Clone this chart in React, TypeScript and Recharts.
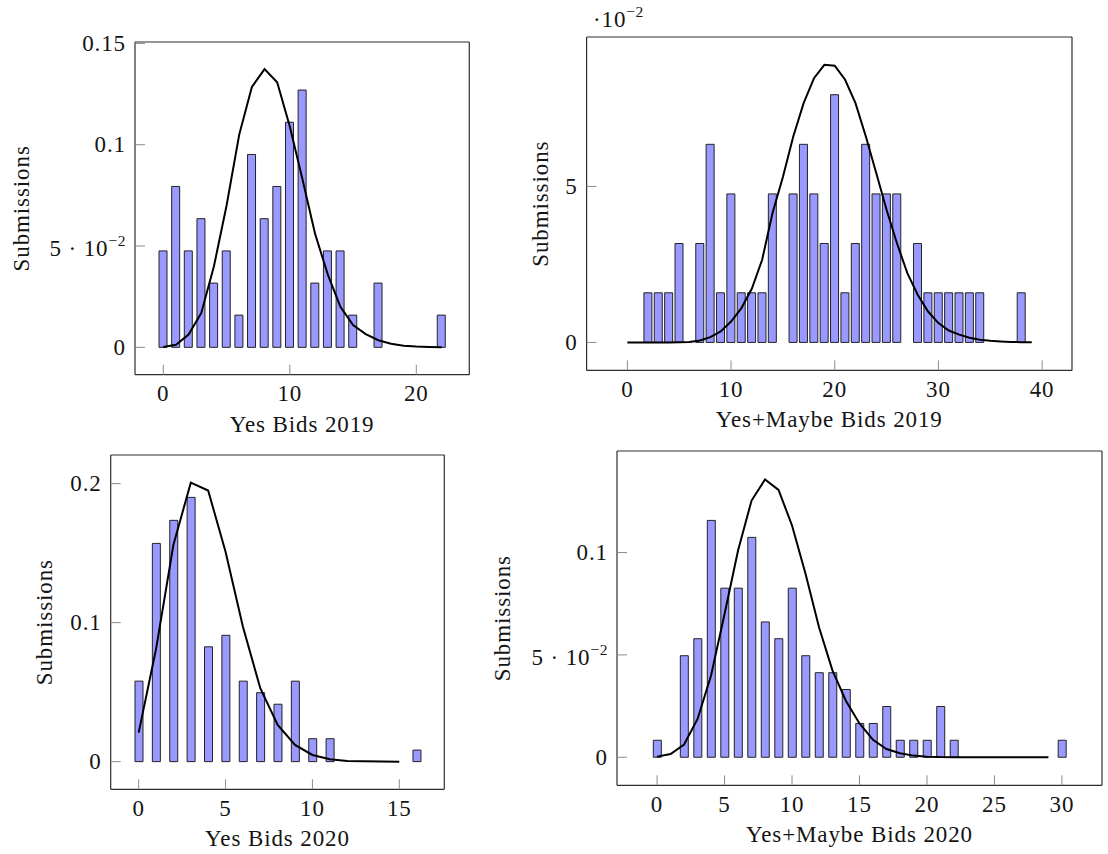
import { ComposedChart, Bar, Line, XAxis, YAxis } from 'recharts';

// ---- Yes bids 2019 ----
const yes2019Bids = [0, 1, 2, 3, 4, 5, 6, 7, 8, 9, 10, 11, 12, 13, 14, 15, 16, 17, 18, 19, 20, 21, 22];
const yes2019Share = [
  0.0476, 0.0794, 0.0476, 0.0635, 0.0317, 0.0476, 0.0159, 0.0952, 0.0635, 0.0794, 0.1111, 0.127,
  0.0317, 0.0476, 0.0476, 0.0159, null, 0.0317, null, null, null, null, 0.0159,
];
const yes2019Fit = [
  0.0002, 0.0013, 0.0063, 0.017, 0.04, 0.07, 0.105, 0.1285, 0.1373, 0.1308, 0.109, 0.083, 0.056,
  0.036, 0.02, 0.011, 0.0065, 0.0035, 0.0018, 0.0008, 0.0004, 0.0002, 0.0001,
];
const yes2019XTicks = [0, 10, 20];
const yes2019YTicks = [0, 0.05, 0.1, 0.15];
const yes2019YLabels = ['0', '5 · 10^−2', '0.1', '0.15'];

// ---- Yes+Maybe bids 2019 ----
const any2019Bids = [
  0, 1, 2, 3, 4, 5, 6, 7, 8, 9, 10, 11, 12, 13, 14, 15, 16, 17, 18, 19, 20, 21, 22, 23, 24, 25, 26,
  27, 28, 29, 30, 31, 32, 33, 34, 35, 36, 37, 38, 39,
];
const any2019Share = [
  null, null, 0.0159, 0.0159, 0.0159, 0.0317, null, 0.0317, 0.0635, 0.0159, 0.0476, 0.0159, 0.0159,
  0.0159, 0.0476, null, 0.0476, 0.0635, 0.0476, 0.0317, 0.0794, 0.0159, 0.0317, 0.0635, 0.0476,
  0.0476, 0.0476, null, 0.0317, 0.0159, 0.0159, 0.0159, 0.0159, 0.0159, 0.0159, null, null, null,
  0.0159, null,
];
const any2019Fit = [
  0, 0, 0, 0, 0.00001, 0.00003, 0.0001, 0.0006, 0.0017, 0.0035, 0.0067, 0.011, 0.0172, 0.0265,
  0.0415, 0.053, 0.066, 0.0767, 0.0847, 0.089, 0.0887, 0.0842, 0.0767, 0.066, 0.0543, 0.0425,
  0.0318, 0.0222, 0.0153, 0.0099, 0.0062, 0.0038, 0.0025, 0.0015, 0.00085, 0.0005, 0.0003, 0.00015,
  0.00008, 0.00004,
];
const any2019XTicks = [0, 10, 20, 30, 40];
const any2019YTicks = [0, 0.05];
const any2019YLabels = ['0', '5'];

// ---- Yes bids 2020 ----
const yes2020Bids = [0, 1, 2, 3, 4, 5, 6, 7, 8, 9, 10, 11, 12, 13, 14, 15, 16];
const yes2020Share = [
  0.0579, 0.157, 0.1736, 0.1901, 0.0826, 0.0909, 0.0579, 0.0496, 0.0413, 0.0579, 0.0165, 0.0165,
  null, null, null, null, 0.0083,
];
const yes2020Fit = [
  0.0209, 0.081, 0.156, 0.2007, 0.195, 0.151, 0.097, 0.0528, 0.0264, 0.012, 0.0048, 0.0017, 0.0005,
  0.0002, 0.0001, 0,
];
const yes2020XTicks = [0, 5, 10, 15];
const yes2020YTicks = [0, 0.1, 0.2];
const yes2020YLabels = ['0', '0.1', '0.2'];

// ---- Yes+Maybe bids 2020 ----
const any2020Bids = [
  0, 1, 2, 3, 4, 5, 6, 7, 8, 9, 10, 11, 12, 13, 14, 15, 16, 17, 18, 19, 20, 21, 22, 23, 24, 25, 26,
  27, 28, 29, 30,
];
const any2020Share = [
  0.0083, null, 0.0496, 0.0579, 0.1157, 0.0826, 0.0826, 0.1074, 0.0661, 0.0579, 0.0826, 0.0496,
  0.0413, 0.0413, 0.0331, 0.0165, 0.0165, 0.0248, 0.0083, 0.0083, 0.0083, 0.0248, 0.0083, null, null,
  null, null, null, null, null, 0.0083,
];
const any2020Fit = [
  0.0003, 0.0016, 0.0062, 0.0187, 0.0399, 0.07, 0.101, 0.1254, 0.1357, 0.1306, 0.1132, 0.0896,
  0.0635, 0.0423, 0.0275, 0.0165, 0.0085, 0.004, 0.002, 0.0008, 0.0003, 0.0001, 0.00005, 0, 0, 0, 0,
  0, 0, 0,
];
const any2020XTicks = [0, 5, 10, 15, 20, 25, 30];
const any2020YTicks = [0, 0.05, 0.1];
const any2020YLabels = ['0', '5 · 10^−2', '0.1'];

const INK = '#141414';
const SUP = 15.5;
const TICK = 10;
const TOP_PAD = 12;
const BOTTOM_AXIS = 66;
const textStyle = {
  fontFamily: '"Liberation Serif", serif',
  fontSize: 23,
  letterSpacing: 0.9,
};

type Frame = { left: number; top: number; right: number; bottom: number };

type PanelProps = {
  frame: Frame;
  titleX: number;
  xTitle: string;
  bids: number[];
  shares: (number | null)[];
  fits: number[];
  xDomain: [number, number];
  yDomain: [number, number];
  xTicks: number[];
  yTicks: number[];
  yLabels: string[];
};

function Panel(p: PanelProps) {
  const boxLeft = Math.max(0, p.titleX - 24);
  const boxTop = p.frame.top - TOP_PAD;
  const yAxisW = p.frame.left - boxLeft;
  const frameW = p.frame.right - p.frame.left;
  const frameH = p.frame.bottom - p.frame.top;
  const width = yAxisW + frameW + 1 + 2;
  const height = TOP_PAD + frameH + BOTTOM_AXIS;

  const rows = p.bids.map((bid, i) => ({
    bid,
    share: p.shares[i] ?? null,
    fit: p.fits[i] ?? null,
  }));

  const tickLine = { stroke: '#8c8c8c', strokeWidth: 1 };
  const frameLine = { stroke: '#2e2e2e', strokeWidth: 1.2 };

  const xTick = (t: any) => (
    <text x={t.x} y={t.y} dy={15.5} textAnchor="middle" style={textStyle} fill={INK}>
      {t.payload.value}
    </text>
  );

  const yTick = (t: any) => {
    const idx = p.yTicks.indexOf(t.payload.value);
    const label = idx >= 0 ? p.yLabels[idx] : String(t.payload.value);
    const [base, exp] = label.split('^');
    return (
      <text x={t.x} y={t.y} dy={exp ? 10 : 7.5} textAnchor="end" style={textStyle} fill={INK}>
        {base}
        {exp && (
          <tspan dy={-10} style={{ fontSize: SUP, letterSpacing: 0.5 }}>
            {exp}
          </tspan>
        )}
      </text>
    );
  };

  const cx = p.titleX - boxLeft;
  const cy = TOP_PAD + frameH / 2;

  return (
    <div style={{ position: 'absolute', left: boxLeft, top: boxTop }}>
      <ComposedChart
        width={width}
        height={height}
        data={rows}
        margin={{ top: TOP_PAD - 1, right: 2, bottom: 0, left: 0 }}
      >
        <XAxis
          xAxisId="bottom"
          dataKey="bid"
          type="number"
          domain={p.xDomain}
          allowDataOverflow
          ticks={p.xTicks}
          interval={0}
          height={BOTTOM_AXIS}
          tickSize={-TICK}
          tickMargin={TICK + 11}
          tick={xTick}
          tickLine={tickLine}
          axisLine={frameLine}
          label={{
            content: () => (
              <text
                x={yAxisW + frameW / 2}
                y={TOP_PAD + frameH + 57}
                textAnchor="middle"
                style={textStyle}
                fill={INK}
              >
                {p.xTitle}
              </text>
            ),
          }}
        />
        <XAxis
          xAxisId="top"
          orientation="top"
          type="number"
          domain={p.xDomain}
          allowDataOverflow
          ticks={p.xTicks}
          interval={0}
          height={1}
          tickSize={-TICK}
          tick={false}
          tickLine={tickLine}
          axisLine={frameLine}
        />
        <YAxis
          yAxisId="left"
          type="number"
          domain={p.yDomain}
          allowDataOverflow
          ticks={p.yTicks}
          interval={0}
          width={yAxisW}
          tickSize={-TICK}
          tickMargin={TICK + 9}
          tick={yTick}
          tickLine={tickLine}
          axisLine={frameLine}
          label={{
            content: () => (
              <text
                transform={`translate(${cx},${cy}) rotate(-90)`}
                textAnchor="middle"
                dy={7}
                style={textStyle}
                fill={INK}
              >
                Submissions
              </text>
            ),
          }}
        />
        <YAxis
          yAxisId="right"
          orientation="right"
          type="number"
          domain={p.yDomain}
          allowDataOverflow
          ticks={p.yTicks}
          interval={0}
          width={1}
          tickSize={-TICK}
          tick={false}
          tickLine={tickLine}
          axisLine={frameLine}
        />
        <Bar
          xAxisId="bottom"
          yAxisId="left"
          dataKey="share"
          barSize={8}
          fill="#9999ff"
          stroke="#222"
          strokeWidth={1}
          isAnimationActive={false}
        />
        <Line
          xAxisId="bottom"
          yAxisId="left"
          dataKey="fit"
          type="linear"
          stroke="#000"
          strokeWidth={2}
          dot={false}
          isAnimationActive={false}
        />
      </ComposedChart>
    </div>
  );
}

export default function App() {
  return (
    <div
      style={{
        position: 'absolute',
        left: 0,
        top: 0,
        width: 1108,
        height: 854,
        overflow: 'hidden',
        background: '#fff',
      }}
    >
      <Panel
        frame={{ left: 135, top: 42.3, right: 469.3, bottom: 375 }}
        titleX={22}
        xTitle="Yes Bids 2019"
        bids={yes2019Bids}
        shares={yes2019Share}
        fits={yes2019Fit}
        xDomain={[-2.24, 24.19]}
        yDomain={[-0.0135, 0.1507]}
        xTicks={yes2019XTicks}
        yTicks={yes2019YTicks}
        yLabels={yes2019YLabels}
      />
      <Panel
        frame={{ left: 586.6, top: 37.3, right: 1072, bottom: 370.7 }}
        titleX={541}
        xTitle="Yes+Maybe Bids 2019"
        bids={any2019Bids}
        shares={any2019Share}
        fits={any2019Fit}
        xDomain={[-3.93, 42.88]}
        yDomain={[-0.00897, 0.0979]}
        xTicks={any2019XTicks}
        yTicks={any2019YTicks}
        yLabels={any2019YLabels}
      />
      <svg
        width={90}
        height={40}
        style={{ position: 'absolute', left: 589, top: 0, overflow: 'visible' }}
      >
        <text x={4} y={27} style={textStyle} fill={INK}>
          ·10
          <tspan dy={-10} style={{ fontSize: SUP, letterSpacing: 0.5 }}>
            −2
          </tspan>
        </text>
      </svg>
      <Panel
        frame={{ left: 110.7, top: 455, right: 444.3, bottom: 789.3 }}
        titleX={45}
        xTitle="Yes Bids 2020"
        bids={yes2020Bids}
        shares={yes2020Share}
        fits={yes2020Fit}
        xDomain={[-1.61, 17.59]}
        yDomain={[-0.0199, 0.2206]}
        xTicks={yes2020XTicks}
        yTicks={yes2020YTicks}
        yLabels={yes2020YLabels}
      />
      <Panel
        frame={{ left: 617, top: 450.7, right: 1102, bottom: 785 }}
        titleX={503}
        xTitle="Yes+Maybe Bids 2020"
        bids={any2020Bids}
        shares={any2020Share}
        fits={any2020Fit}
        xDomain={[-2.97, 32.97]}
        yDomain={[-0.0137, 0.1496]}
        xTicks={any2020XTicks}
        yTicks={any2020YTicks}
        yLabels={any2020YLabels}
      />
    </div>
  );
}
